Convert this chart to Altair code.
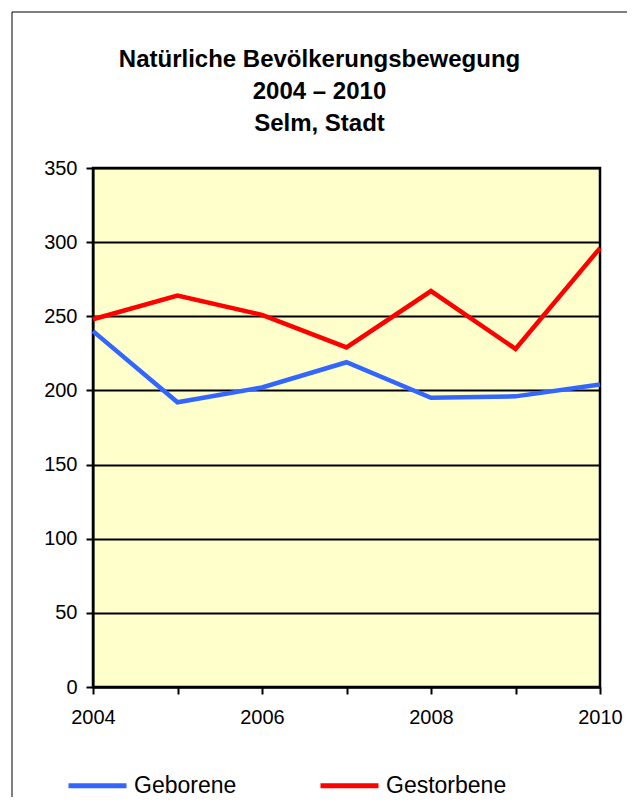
import altair as alt
import pandas as pd

years = [2004, 2005, 2006, 2007, 2008, 2009, 2010]
geborene = [240, 192, 202, 219, 195, 196, 204]
gestorbene = [248, 264, 251, 229, 267, 228, 296]
series_names = ["Geborene", "Gestorbene"]
series_colors = ["#3366FF", "#FF0000"]
title_lines = ["Natürliche Bevölkerungsbewegung", "2004 – 2010", "Selm, Stadt"]
y_ticks = [0, 50, 100, 150, 200, 250, 300, 350]

rows = []
for y, g in zip(years, geborene):
    rows.append({"Jahr": y, "Wert": g, "Reihe": series_names[0]})
for y, g in zip(years, gestorbene):
    rows.append({"Jahr": y, "Wert": g, "Reihe": series_names[1]})
df = pd.DataFrame(rows)

FONT = "Liberation Sans"

lines = alt.Chart(df).mark_line(strokeWidth=4.5).encode(
    x=alt.X("Jahr:Q", scale=alt.Scale(domain=[2004, 2010], nice=False, zero=False),
            axis=alt.Axis(values=years, format="d", title=None, grid=False,
                          labelExpr="datum.value % 2 == 0 ? datum.label : ''",
                          tickSize=7, tickColor="black", tickWidth=2,
                          domainColor="black", domainWidth=2,
                          labelFontSize=20, labelFont=FONT, labelColor="black",
                          labelPadding=13, labelFlush=False)),
    y=alt.Y("Wert:Q", scale=alt.Scale(domain=[0, 350], nice=False),
            axis=alt.Axis(values=y_ticks, title=None, grid=True, gridColor="black",
                          gridWidth=2, tickSize=7, tickColor="black", tickWidth=2,
                          domainColor="black", domainWidth=2,
                          labelFontSize=20, labelFont=FONT, labelColor="black",
                          labelPadding=9)),
    color=alt.Color("Reihe:N", scale=alt.Scale(domain=series_names, range=series_colors),
                    legend=alt.Legend(title=None, orient="none", legendX=-27, legendY=586,
                                      direction="horizontal", symbolType="stroke",
                                      symbolSize=3364, symbolStrokeWidth=5,
                                      labelFontSize=23, labelFont=FONT, labelColor="black",
                                      labelOffset=5, columnPadding=73)),
)

border = alt.Chart(pd.DataFrame({"a": [0]})).mark_rect(
    fillOpacity=0, stroke="black", strokeWidth=1, clip=False
).encode(x=alt.value(-81), x2=alt.value(560), y=alt.value(-156), y2=alt.value(700))

chart = alt.layer(border, lines).properties(
    width=507, height=519,
    autosize=alt.AutoSizeParams(type="none"),
    padding={"left": 85, "top": 160, "right": 27, "bottom": 110},
    background="white",
    title=alt.Title(text=title_lines, fontSize=24, font=FONT, fontWeight="bold",
                    color="black", lineHeight=32, offset=-124, dx=-27, anchor="middle"),
).configure_view(fill="#FFFFCC", stroke="black", strokeWidth=2.5)

chart.save("out.html", embed_options={"renderer": "svg", "actions": False})
